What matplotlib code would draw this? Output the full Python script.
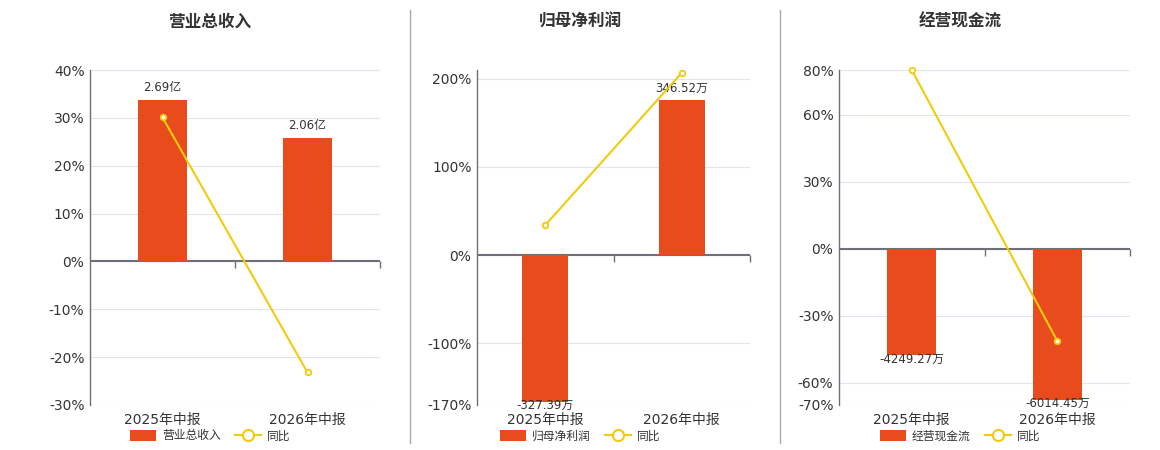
import matplotlib
matplotlib.use("Agg")
import matplotlib.pyplot as plt
from matplotlib.patches import Patch
from matplotlib.lines import Line2D

plt.rcParams['font.family'] = ['DejaVu Sans', 'Noto Sans CJK SC']

# Data
periods = ["2025年中报", "2026年中报"]

titles = ["营业总收入", "归母净利润", "经营现金流"]

# bar values (raw amounts) and their labels
revenue = [2.69, 2.06]
revenue_labels = ["2.69亿", "2.06亿"]
profit = [-327.39, 346.52]
profit_labels = ["-327.39万", "346.52万"]
cashflow = [-4249.27, -6014.45]
cashflow_labels = ["-4249.27万", "-6014.45万"]

# year-over-year growth (%)
revenue_yoy = [30.1, -23.2]
profit_yoy = [34.0, 206.8]
cashflow_yoy = [80.0, -41.3]

# y-axis ticks (%)
revenue_ticks = [-30, -20, -10, 0, 10, 20, 30, 40]
profit_ticks = [-170, -100, 0, 100, 200]
cashflow_ticks = [-70, -60, -30, 0, 30, 60, 80]

BAR = "#E84C1C"
LINE = "#F2CB0C"
GRID = "#E0E6F1"
AXIS = "#6E7079"
TEXT = "#333333"

fig = plt.figure(figsize=(11.6, 4.5), dpi=100)

panels = [
    # left, width, ylim, ticks, bars, labels, yoy, bar scale (amount per %), title x
    (90, 290, (-30, 40), revenue_ticks, revenue, revenue_labels, revenue_yoy, 2.69 / 33.8, 210),
    (477, 273, (-170, 210), profit_ticks, profit, profit_labels, profit_yoy, 346.52 / 176.0, 580),
    (839, 291, (-70, 80), cashflow_ticks, cashflow, cashflow_labels, cashflow_yoy, 6014.45 / 67.6, 960),
]

W, H = 1160.0, 450.0
for i, (left, width, ylim, ticks, bars, labels, yoy, k, tx) in enumerate(panels):
    ax = fig.add_axes([left / W, 1 - 405 / H, width / W, 335 / H])
    ax2 = ax.twinx()
    ax2.set_ylim(ylim[0] * k, ylim[1] * k)
    ax2.axis("off")

    x = list(range(len(periods)))
    ax2.bar(x, bars, width=0.34, color=BAR, zorder=2)
    for xi, v, lab in zip(x, bars, labels):
        if v >= 0:
            ax2.annotate(lab, (xi, v), xytext=(0, 4), textcoords="offset points",
                         ha="center", va="bottom", fontsize=8.5, color=TEXT)
        else:
            ax2.annotate(lab, (xi, v), xytext=(0, 2), textcoords="offset points",
                         ha="center", va="top", fontsize=8.5, color=TEXT)

    ax2.plot(x, [v * k for v in yoy], color=LINE, lw=1.5, marker="o", ms=4,
             mfc="white", mec=LINE, mew=1.3, zorder=5, clip_on=False)

    ax.set_xlim(-0.5, 1.5)
    ax2.set_xlim(-0.5, 1.5)
    ax.set_ylim(*ylim)
    ax.set_yticks(ticks)
    ax.set_yticklabels([f"{t}%" for t in ticks], fontsize=10, color=TEXT)
    ax.set_xticks(x)
    ax.set_xticklabels(periods, fontsize=10, color=TEXT)
    ax.tick_params(axis="x", length=0, pad=6)
    ax.tick_params(axis="y", length=0, pad=4)
    for t in ticks:
        ax.axhline(t, color=GRID, lw=0.8, zorder=0)
    ax.axhline(0, color=AXIS, lw=1.5, zorder=3)
    # category boundary ticks on the zero line
    for b in [0.5, 1.5]:
        ax.plot([b], [0], marker=3, ms=5, color=AXIS, mew=1, clip_on=False, zorder=3)
    for s in ["top", "right", "bottom"]:
        ax.spines[s].set_visible(False)
    ax.spines["left"].set_color(AXIS)
    ax.spines["left"].set_linewidth(1)
    ax.set_zorder(ax2.get_zorder() - 1)
    ax.patch.set_visible(False)

    fig.text(tx / W, 1 - 22 / H, titles[i], ha="center", va="center",
             fontsize=12, fontweight="bold", color=TEXT)

    handles = [Patch(facecolor=BAR, edgecolor="none"),
               Line2D([0], [0], color=LINE, lw=1.5, marker="o", ms=8,
                      mfc="white", mec=LINE, mew=1.5)]
    fig.legend(handles, [titles[i], "同比"], loc="center",
               bbox_to_anchor=(tx / W, 1 - 436 / H), ncol=2, frameon=False,
               fontsize=8.5, handlelength=2.2, handleheight=1.0,
               columnspacing=1.2, handletextpad=0.5, labelcolor="#333333",
               borderpad=0.1)

# panel separators
for sx in [410, 780]:
    fig.add_artist(Line2D([sx / W, sx / W], [1 - 443 / H, 1 - 10 / H],
                          color="#AAAAAA", lw=1))

plt.savefig("out.png", dpi=100)
